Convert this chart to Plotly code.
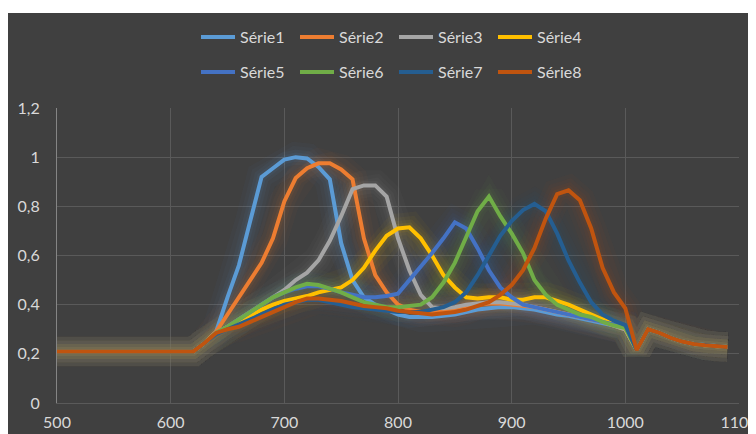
import plotly.graph_objects as go

# longueur d'onde (nm)
longueur_onde = list(range(500, 1100, 10))

base = [0.21] * 13  # 500 -> 620
queue = [0.215, 0.30, 0.285, 0.265, 0.25, 0.24, 0.235, 0.23, 0.228]  # 1010 -> 1090

serie1 = base + [0.245, 0.29, 0.43, 0.56, 0.74, 0.92, 0.955, 0.99, 1.0, 0.995, 0.96, 0.91, 0.65,
                 0.50, 0.43, 0.40, 0.38, 0.36, 0.35, 0.35, 0.35, 0.355, 0.36, 0.37, 0.38, 0.385,
                 0.39, 0.39, 0.385, 0.38, 0.37, 0.36, 0.355, 0.345, 0.335, 0.325, 0.315, 0.30] + queue
serie2 = base + [0.245, 0.29, 0.36, 0.43, 0.50, 0.57, 0.67, 0.82, 0.915, 0.955, 0.975, 0.975, 0.95,
                 0.91, 0.67, 0.52, 0.45, 0.40, 0.38, 0.37, 0.37, 0.375, 0.385, 0.395, 0.40, 0.405,
                 0.405, 0.40, 0.395, 0.39, 0.38, 0.37, 0.36, 0.35, 0.34, 0.33, 0.315, 0.30] + queue
serie3 = base + [0.245, 0.285, 0.31, 0.34, 0.37, 0.40, 0.43, 0.46, 0.50, 0.53, 0.58, 0.66, 0.76,
                 0.87, 0.885, 0.885, 0.84, 0.67, 0.54, 0.44, 0.39, 0.385, 0.39, 0.40, 0.405, 0.41,
                 0.41, 0.405, 0.40, 0.39, 0.38, 0.37, 0.36, 0.35, 0.34, 0.33, 0.315, 0.30] + queue
serie4 = base + [0.245, 0.285, 0.31, 0.33, 0.355, 0.38, 0.40, 0.415, 0.425, 0.435, 0.45, 0.46, 0.47,
                 0.50, 0.55, 0.62, 0.68, 0.71, 0.715, 0.67, 0.60, 0.52, 0.47, 0.43, 0.425, 0.43,
                 0.43, 0.42, 0.42, 0.43, 0.43, 0.415, 0.40, 0.38, 0.36, 0.34, 0.32, 0.305] + queue
serie5 = base + [0.245, 0.285, 0.31, 0.34, 0.37, 0.40, 0.43, 0.45, 0.465, 0.475, 0.475, 0.465, 0.45,
                 0.44, 0.43, 0.43, 0.435, 0.445, 0.50, 0.55, 0.61, 0.67, 0.735, 0.71, 0.63, 0.54,
                 0.47, 0.43, 0.40, 0.39, 0.38, 0.37, 0.36, 0.35, 0.34, 0.33, 0.32, 0.315] + queue
serie6 = base + [0.245, 0.285, 0.31, 0.34, 0.37, 0.40, 0.43, 0.45, 0.47, 0.485, 0.48, 0.465, 0.45,
                 0.43, 0.41, 0.40, 0.39, 0.39, 0.395, 0.40, 0.43, 0.49, 0.57, 0.68, 0.78, 0.84,
                 0.76, 0.69, 0.61, 0.50, 0.44, 0.40, 0.38, 0.36, 0.35, 0.33, 0.315, 0.305] + queue
serie7 = base + [0.245, 0.28, 0.30, 0.32, 0.34, 0.36, 0.38, 0.40, 0.41, 0.42, 0.42, 0.41, 0.40,
                 0.39, 0.385, 0.38, 0.375, 0.37, 0.37, 0.37, 0.38, 0.39, 0.41, 0.45, 0.52, 0.60,
                 0.68, 0.74, 0.785, 0.81, 0.78, 0.69, 0.58, 0.49, 0.41, 0.36, 0.335, 0.317] + queue
serie8 = base + [0.245, 0.285, 0.30, 0.31, 0.33, 0.35, 0.37, 0.39, 0.41, 0.425, 0.425, 0.42, 0.415,
                 0.405, 0.395, 0.39, 0.385, 0.375, 0.37, 0.365, 0.36, 0.365, 0.37, 0.38, 0.395, 0.41,
                 0.44, 0.48, 0.54, 0.63, 0.75, 0.85, 0.865, 0.825, 0.71, 0.55, 0.45, 0.385] + queue

noms = ["Série1", "Série2", "Série3", "Série4", "Série5", "Série6", "Série7", "Série8"]
series = [serie1, serie2, serie3, serie4, serie5, serie6, serie7, serie8]
couleurs = ["#5B9BD5", "#ED7D31", "#A5A5A5", "#FFC000", "#4472C4", "#70AD47", "#255E91", "#C0540F"]


def rgba(hexa, a):
    h = hexa.lstrip("#")
    return f"rgba({int(h[0:2], 16)},{int(h[2:4], 16)},{int(h[4:6], 16)},{a})"


fig = go.Figure()

# halo lumineux autour des courbes
for y, c in zip(series, couleurs):
    for w, a in [(30, 0.035), (22, 0.04), (15, 0.05), (9, 0.07)]:
        fig.add_trace(go.Scatter(x=longueur_onde, y=y, mode="lines", showlegend=False,
                                 hoverinfo="skip", line=dict(color=rgba(c, a), width=w)))

# courbes
for i, (nom, y, c) in enumerate(zip(noms, series, couleurs)):
    fig.add_trace(go.Scatter(x=longueur_onde, y=y, mode="lines", name=nom,
                             legend="legend" if i < 4 else "legend2",
                             line=dict(color=c, width=4)))

# la page ajoute 8 px de marge : zone de tracé 49..731 px, 100..395 px dans la figure
L, T, W, H = 49, 100, 682, 295
px = lambda p: (p - L) / W
py = lambda p: (T + H - p) / H

fig.add_shape(type="rect", xref="paper", yref="paper", x0=px(-5), x1=px(760), y0=py(440), y1=py(5),
              fillcolor="#404040", line_width=0, layer="below")

police = dict(family="Lato, Open Sans, sans-serif", size=16, color="#D9D9D9")
leg = dict(orientation="h", xanchor="center", yanchor="middle", x=px(386),
           bgcolor="rgba(0,0,0,0)", font=police, entrywidth=50, itemwidth=34,
           tracegroupgap=0)

fig.update_layout(
    width=756, height=434,
    margin=dict(l=L, r=756 - L - W, t=T, b=434 - T - H, autoexpand=False),
    paper_bgcolor="white",
    plot_bgcolor="#404040",
    separators=", ",
    font=police,
    legend=dict(leg, y=py(29)),
    legend2=dict(leg, y=py(64)),
)

fig.update_xaxes(range=[500, 1100], dtick=100, showgrid=True, gridcolor="#5A5A5A", gridwidth=1,
                 zeroline=False, showline=True, linecolor="#5A5A5A", automargin=False,
                 ticks="outside", ticklen=5, tickcolor="rgba(0,0,0,0)",
                 tickfont=dict(size=16, color="#D9D9D9"))
fig.update_yaxes(range=[0, 1.2], dtick=0.2, showgrid=True, gridcolor="#5A5A5A", gridwidth=1,
                 zeroline=False, showline=True, linecolor="#858585", automargin=False,
                 ticks="outside", ticklen=13, tickcolor="rgba(0,0,0,0)",
                 tickfont=dict(size=16, color="#D9D9D9"))

fig.write_html("out.html")
